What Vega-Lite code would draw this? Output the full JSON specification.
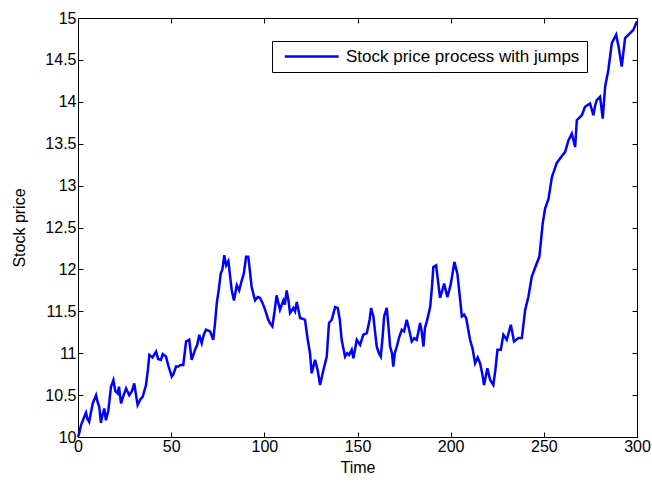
{
  "$schema": "https://vega.github.io/schema/vega-lite/v6.json",
  "width": 559,
  "height": 419,
  "autosize": {"type": "none"},
  "padding": {"left": 78, "top": 18, "right": 15, "bottom": 49},
  "background": "white",
  "data": {
    "values": [
      {"t": 0, "v": 10.0}, {"t": 0.7, "v": 10.05}, {"t": 1.6, "v": 10.14}, {"t": 3, "v": 10.22}, {"t": 4.3, "v": 10.29},
      {"t": 5, "v": 10.22}, {"t": 6, "v": 10.18}, {"t": 7, "v": 10.3}, {"t": 7.9, "v": 10.4}, {"t": 9.7, "v": 10.5},
      {"t": 10.5, "v": 10.42}, {"t": 11.4, "v": 10.36}, {"t": 12.3, "v": 10.17}, {"t": 13, "v": 10.25}, {"t": 14.1, "v": 10.34},
      {"t": 15, "v": 10.2}, {"t": 16.3, "v": 10.32}, {"t": 17.7, "v": 10.6}, {"t": 19, "v": 10.68}, {"t": 20, "v": 10.55},
      {"t": 21.3, "v": 10.52}, {"t": 22, "v": 10.6}, {"t": 23.1, "v": 10.4}, {"t": 24.5, "v": 10.5}, {"t": 25.8, "v": 10.58},
      {"t": 27.5, "v": 10.5}, {"t": 29, "v": 10.55}, {"t": 30.2, "v": 10.64}, {"t": 31, "v": 10.52}, {"t": 32, "v": 10.38},
      {"t": 33.5, "v": 10.45}, {"t": 34.7, "v": 10.48}, {"t": 36.5, "v": 10.62}, {"t": 37.5, "v": 10.8}, {"t": 38.3, "v": 10.98},
      {"t": 40, "v": 10.95}, {"t": 41.9, "v": 11.02}, {"t": 43, "v": 10.93}, {"t": 44.5, "v": 10.92}, {"t": 45.5, "v": 10.99},
      {"t": 47.2, "v": 10.96}, {"t": 48.5, "v": 10.85}, {"t": 50.3, "v": 10.72}, {"t": 51.2, "v": 10.75}, {"t": 52.6, "v": 10.84},
      {"t": 53.8, "v": 10.84}, {"t": 55, "v": 10.86}, {"t": 56.5, "v": 10.86}, {"t": 58, "v": 11.14}, {"t": 59.7, "v": 11.16},
      {"t": 61, "v": 10.92}, {"t": 62.8, "v": 11.04}, {"t": 64, "v": 11.1}, {"t": 65.1, "v": 11.22}, {"t": 66.4, "v": 11.12},
      {"t": 67.5, "v": 11.22}, {"t": 68.7, "v": 11.28}, {"t": 70.9, "v": 11.26}, {"t": 72.6, "v": 11.16}, {"t": 73.5, "v": 11.35},
      {"t": 74.5, "v": 11.6}, {"t": 75.5, "v": 11.75}, {"t": 76.6, "v": 11.95}, {"t": 77.5, "v": 12.0}, {"t": 78.5, "v": 12.17},
      {"t": 79.5, "v": 12.05}, {"t": 80.7, "v": 12.1}, {"t": 82.5, "v": 11.75}, {"t": 83.7, "v": 11.63}, {"t": 85.2, "v": 11.81},
      {"t": 86.5, "v": 11.75}, {"t": 87.9, "v": 11.87}, {"t": 89, "v": 11.95}, {"t": 90.2, "v": 12.15}, {"t": 91.4, "v": 12.15},
      {"t": 93.2, "v": 11.79}, {"t": 95, "v": 11.63}, {"t": 96.5, "v": 11.67}, {"t": 97.7, "v": 11.66}, {"t": 99, "v": 11.6},
      {"t": 100.4, "v": 11.52}, {"t": 102.1, "v": 11.4}, {"t": 103, "v": 11.36}, {"t": 104.3, "v": 11.32}, {"t": 105.5, "v": 11.5},
      {"t": 106.6, "v": 11.69}, {"t": 107.5, "v": 11.6}, {"t": 108.4, "v": 11.52}, {"t": 110.2, "v": 11.63}, {"t": 111, "v": 11.58},
      {"t": 112, "v": 11.75}, {"t": 113, "v": 11.62}, {"t": 113.8, "v": 11.48}, {"t": 115.6, "v": 11.54}, {"t": 116.5, "v": 11.5},
      {"t": 117.4, "v": 11.61}, {"t": 119.2, "v": 11.42}, {"t": 121.8, "v": 11.4}, {"t": 123.3, "v": 11.16}, {"t": 124.5, "v": 11.0},
      {"t": 125.4, "v": 10.76}, {"t": 127.2, "v": 10.92}, {"t": 128.6, "v": 10.8}, {"t": 129.9, "v": 10.62}, {"t": 131.7, "v": 10.8},
      {"t": 133.5, "v": 10.96}, {"t": 134.7, "v": 11.36}, {"t": 136.2, "v": 11.4}, {"t": 138, "v": 11.55}, {"t": 139.4, "v": 11.54},
      {"t": 140.5, "v": 11.4}, {"t": 141.5, "v": 11.16}, {"t": 143.3, "v": 10.96}, {"t": 144.5, "v": 11.0}, {"t": 145.5, "v": 10.98},
      {"t": 146.9, "v": 11.04}, {"t": 147.8, "v": 10.94}, {"t": 149.6, "v": 11.16}, {"t": 151.4, "v": 11.1}, {"t": 153.1, "v": 11.22},
      {"t": 155, "v": 11.24}, {"t": 156.5, "v": 11.4}, {"t": 157.3, "v": 11.54}, {"t": 158.5, "v": 11.44}, {"t": 160.3, "v": 11.08},
      {"t": 161.5, "v": 11.0}, {"t": 162.5, "v": 10.96}, {"t": 163.5, "v": 11.2}, {"t": 164.3, "v": 11.44}, {"t": 165.7, "v": 11.54},
      {"t": 166.5, "v": 11.35}, {"t": 167.5, "v": 11.08}, {"t": 168.5, "v": 11.0}, {"t": 169.2, "v": 10.84}, {"t": 170, "v": 11.0},
      {"t": 171.1, "v": 11.08}, {"t": 172.5, "v": 11.2}, {"t": 173.8, "v": 11.28}, {"t": 175, "v": 11.26}, {"t": 176.4, "v": 11.4},
      {"t": 177.5, "v": 11.3}, {"t": 179.1, "v": 11.14}, {"t": 180.5, "v": 11.18}, {"t": 181.8, "v": 11.16}, {"t": 183.6, "v": 11.36},
      {"t": 184.5, "v": 11.25}, {"t": 185.4, "v": 11.08}, {"t": 186.2, "v": 11.3}, {"t": 187.2, "v": 11.38}, {"t": 189, "v": 11.55},
      {"t": 190, "v": 11.8}, {"t": 190.7, "v": 12.03}, {"t": 192.2, "v": 12.05}, {"t": 193, "v": 11.9}, {"t": 194.3, "v": 11.66},
      {"t": 195.5, "v": 11.75}, {"t": 196.5, "v": 11.83}, {"t": 198.2, "v": 11.67}, {"t": 199.2, "v": 11.75}, {"t": 200.1, "v": 11.83},
      {"t": 202, "v": 12.09}, {"t": 203.6, "v": 11.95}, {"t": 204.8, "v": 11.7}, {"t": 206, "v": 11.44}, {"t": 207.2, "v": 11.46},
      {"t": 208.3, "v": 11.42}, {"t": 210.4, "v": 11.16}, {"t": 211.8, "v": 11.05}, {"t": 213.1, "v": 10.88}, {"t": 214.5, "v": 10.95},
      {"t": 215.8, "v": 10.88}, {"t": 217, "v": 10.75}, {"t": 217.9, "v": 10.62}, {"t": 219.7, "v": 10.82}, {"t": 221.2, "v": 10.68},
      {"t": 222.9, "v": 10.62}, {"t": 224, "v": 10.8}, {"t": 225.1, "v": 11.04}, {"t": 226.9, "v": 11.04}, {"t": 228.3, "v": 11.22},
      {"t": 230.1, "v": 11.16}, {"t": 232.3, "v": 11.34}, {"t": 234, "v": 11.14}, {"t": 236.4, "v": 11.18}, {"t": 238.2, "v": 11.18},
      {"t": 240, "v": 11.52}, {"t": 241.7, "v": 11.67}, {"t": 243.5, "v": 11.91}, {"t": 245.8, "v": 12.05}, {"t": 247.6, "v": 12.15},
      {"t": 249.4, "v": 12.55}, {"t": 250.7, "v": 12.73}, {"t": 252.5, "v": 12.84}, {"t": 254.3, "v": 13.1}, {"t": 256.9, "v": 13.27},
      {"t": 259.6, "v": 13.35}, {"t": 261.4, "v": 13.4}, {"t": 263.2, "v": 13.54}, {"t": 265, "v": 13.62}, {"t": 266.8, "v": 13.46},
      {"t": 267.7, "v": 13.78}, {"t": 270.4, "v": 13.84}, {"t": 272.1, "v": 13.94}, {"t": 274.8, "v": 13.98}, {"t": 276.6, "v": 13.84},
      {"t": 277.5, "v": 13.95}, {"t": 278.4, "v": 14.02}, {"t": 280.2, "v": 14.06}, {"t": 281.6, "v": 13.8}, {"t": 282.9, "v": 14.18},
      {"t": 284.6, "v": 14.38}, {"t": 286.5, "v": 14.7}, {"t": 288.8, "v": 14.8}, {"t": 290.1, "v": 14.66}, {"t": 291.8, "v": 14.42},
      {"t": 293.6, "v": 14.76}, {"t": 296.3, "v": 14.82}, {"t": 298.1, "v": 14.86}, {"t": 300, "v": 14.96}
    ]
  },
  "layer": [
    {
      "mark": {"type": "line", "strokeWidth": 2.5, "interpolate": "linear"},
      "encoding": {
        "x": {"field": "t", "type": "quantitative", "scale": {"domain": [0, 300], "nice": false, "zero": false},
              "axis": {"title": "Time", "values": [0, 50, 100, 150, 200, 250, 300], "labelPadding": 6, "titlePadding": 5}},
        "y": {"field": "v", "type": "quantitative", "scale": {"domain": [10, 15], "nice": false, "zero": false},
              "axis": {"title": "Stock price", "values": [10, 10.5, 11, 11.5, 12, 12.5, 13, 13.5, 14, 14.5, 15], "format": "~g", "labelPadding": 7, "titlePadding": 17}},
        "color": {"datum": "Stock price process with jumps", "type": "nominal", "scale": {"range": ["#0000ff"]},
                  "legend": {"title": null}}
      }
    },
    {
      "mark": {"type": "line", "strokeOpacity": 0},
      "encoding": {
        "x": {"field": "t", "type": "quantitative", "scale": {"domain": [0, 300], "nice": false, "zero": false},
              "axis": {"orient": "top", "title": null, "labels": false, "values": [0, 50, 100, 150, 200, 250, 300], "domain": false}},
        "y": {"field": "v", "type": "quantitative", "scale": {"domain": [10, 15], "nice": false, "zero": false},
              "axis": {"orient": "right", "title": null, "labels": false, "values": [10, 10.5, 11, 11.5, 12, 12.5, 13, 13.5, 14, 14.5, 15], "domain": false}}
      }
    }
  ],
  "resolve": {"axis": {"x": "independent", "y": "independent"}},
  "config": {
    "view": {"stroke": "black", "strokeWidth": 1},
    "axis": {
      "grid": false,
      "labelFlush": false,
      "domainColor": "black",
      "tickColor": "black",
      "tickSize": -5,
      "labelColor": "black",
      "titleColor": "black",
      "labelFont": "Liberation Sans",
      "titleFont": "Liberation Sans",
      "labelFontSize": 16,
      "titleFontSize": 16,
      "titleFontWeight": "normal"
    },
    "legend": {
      "orient": "none",
      "legendX": 194,
      "legendY": 23,
      "strokeColor": "black",
      "fillColor": "white",
      "padding": 7,
      "symbolType": "M-0.5,0H9.5",
      "symbolSize": 116,
      "symbolStrokeWidth": 2.5,
      "labelOffset": 50,
      "labelLimit": 0,
      "labelFont": "Liberation Sans",
      "labelFontSize": 17,
      "labelColor": "black"
    }
  }
}
